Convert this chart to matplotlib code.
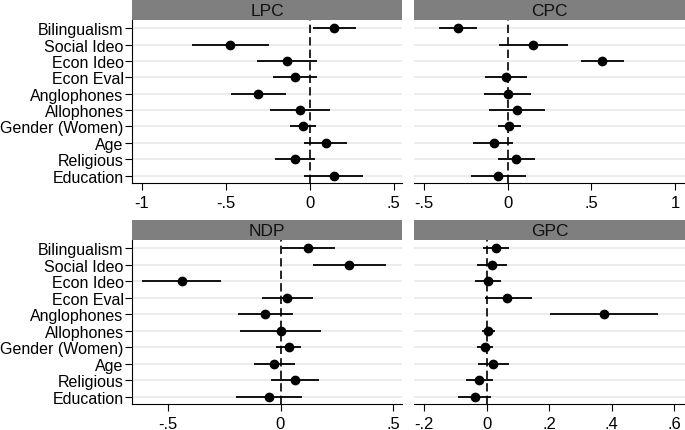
#import the packages
import matplotlib
matplotlib.use("Agg")
import matplotlib.pyplot as plt

plt.rcParams['font.family'] = ['Liberation Sans', 'DejaVu Sans']

#variables, top to bottom
labels = ["Bilingualism", "Social Ideo", "Econ Ideo", "Econ Eval", "Anglophones",
          "Allophones", "Gender (Women)", "Age", "Religious", "Education"]

#coefficients and 95% intervals for each party
lpc_coef = [0.144, -0.474, -0.136, -0.090, -0.306, -0.060, -0.040, 0.094, -0.090, 0.144]
lpc_lo = [0.020, -0.704, -0.314, -0.220, -0.470, -0.240, -0.120, -0.036, -0.210, -0.036]
lpc_hi = [0.276, -0.244, 0.044, 0.046, -0.140, 0.120, 0.036, 0.224, 0.034, 0.320]

cpc_coef = [-0.296, 0.150, 0.566, -0.010, 0.000, 0.056, 0.010, -0.084, 0.052, -0.056]
cpc_lo = [-0.410, -0.054, 0.436, -0.134, -0.140, -0.110, -0.060, -0.208, -0.060, -0.220]
cpc_hi = [-0.186, 0.360, 0.696, 0.116, 0.140, 0.222, 0.082, 0.032, 0.166, 0.110]

ndp_coef = [0.122, 0.304, -0.440, 0.030, -0.067, 0.000, 0.036, -0.030, 0.063, -0.052]
ndp_lo = [0.006, 0.145, -0.616, -0.082, -0.188, -0.179, -0.019, -0.119, -0.042, -0.196]
ndp_hi = [0.242, 0.470, -0.263, 0.145, 0.055, 0.178, 0.093, 0.063, 0.170, 0.096]

gpc_coef = [0.030, 0.017, 0.005, 0.066, 0.375, 0.005, -0.005, 0.021, -0.025, -0.037]
gpc_lo = [-0.013, -0.032, -0.036, -0.004, 0.203, -0.016, -0.031, -0.027, -0.066, -0.091]
gpc_hi = [0.073, 0.065, 0.046, 0.145, 0.547, 0.027, 0.022, 0.070, 0.019, 0.014]

#panel settings: title, data, x limits, ticks, tick labels
panels = [
    ("LPC", lpc_coef, lpc_lo, lpc_hi, (-1.06, 0.55), [-1, -0.5, 0, 0.5], ["-1", "-.5", "0", ".5"]),
    ("CPC", cpc_coef, cpc_lo, cpc_hi, (-0.56, 1.06), [-0.5, 0, 0.5, 1], ["-.5", "0", ".5", "1"]),
    ("NDP", ndp_coef, ndp_lo, ndp_hi, (-0.66, 0.54), [-0.5, 0, 0.5], ["-.5", "0", ".5"]),
    ("GPC", gpc_coef, gpc_lo, gpc_hi, (-0.232, 0.634), [-0.2, 0, 0.2, 0.4, 0.6], ["-.2", "0", ".2", ".4", ".6"]),
]

W, H = 685, 431
#pixel boxes (left, right, header top, plot top, plot bottom)
boxes = [
    (132, 402, 0, 21, 184),
    (414, 685, 0, 21, 184),
    (132, 402, 221, 241, 405),
    (414, 685, 221, 241, 405),
]

fig = plt.figure(figsize=(W / 100, H / 100), dpi=100)
fig.patch.set_facecolor("white")

ypos = list(range(len(labels)))

for i, (title, coef, lo, hi, xlim, ticks, ticklabels) in enumerate(panels):
    left, right, htop, ptop, pbot = boxes[i]

    #gray header strip
    hax = fig.add_axes([left / W, 1 - ptop / H, (right - left) / W, (ptop - htop) / H])
    hax.set_facecolor("#7f7f7f")
    hax.set_xticks([])
    hax.set_yticks([])
    for s in hax.spines.values():
        s.set_visible(False)
    hax.text(0.5, 0.45, title, ha="center", va="center", fontsize=12.5, color="#111111",
             transform=hax.transAxes)

    ax = fig.add_axes([left / W, 1 - pbot / H, (right - left) / W, (pbot - ptop) / H])

    #light horizontal grid at each variable
    for y in ypos:
        ax.axhline(y, color="#ebebeb", lw=1.3, zorder=0)

    ax.axvline(0, color="black", lw=1.2, linestyle=(0, (5, 2.5)), zorder=1)
    ax.hlines(ypos, lo, hi, color="black", lw=1.3, zorder=2)
    ax.plot(coef, ypos, "o", color="black", markersize=6, zorder=3)

    ax.set_xlim(xlim)
    ax.set_ylim(9.45, -0.5)
    ax.set_xticks(ticks)
    ax.set_xticklabels(ticklabels, fontsize=12)
    ax.tick_params(axis="x", length=5, width=0.8, pad=4)

    ax.spines["top"].set_visible(False)
    ax.spines["right"].set_visible(False)
    ax.spines["bottom"].set_linewidth(0.8)

    if i % 2 == 0:
        ax.set_yticks(ypos)
        ax.set_yticklabels(labels, fontsize=11.5)
        ax.tick_params(axis="y", length=5, width=0.8, pad=1)
        ax.spines["left"].set_linewidth(0.8)
    else:
        ax.set_yticks([])
        ax.spines["left"].set_visible(False)

fig.savefig("out.png", dpi=100, facecolor="white")
